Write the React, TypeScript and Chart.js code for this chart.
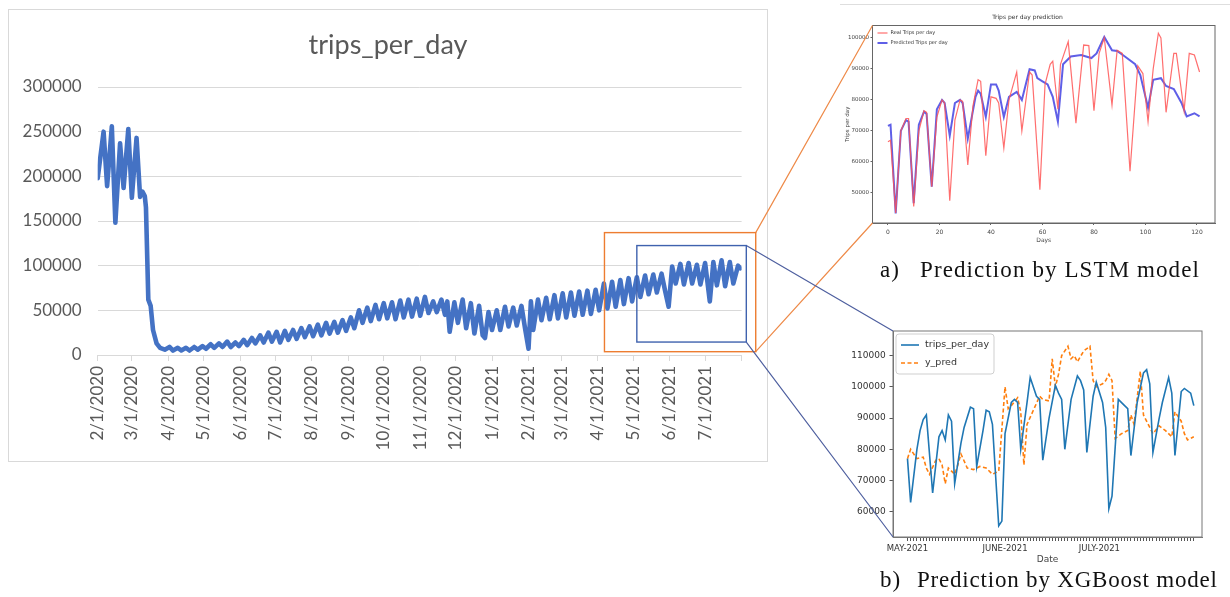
import React, { useEffect, useRef } from 'react';
import { Chart, registerables } from 'chart.js';

Chart.register(...registerables);

// ================= Main chart: trips_per_day (x = days since 2/1/2020) =================
const mainDays = [
  0, 5, 8, 12, 15, 19, 22, 26, 29, 33,
  36, 38, 40, 41, 43, 45, 47, 50, 53, 57,
  61, 64, 68, 71, 75, 78, 82, 85, 89, 92,
  96, 99, 103, 106, 110, 113, 117, 120, 124, 127,
  131, 134, 138, 141, 145, 148, 152, 155, 159, 162,
  166, 169, 173, 176, 180, 183, 187, 190, 194, 197,
  201, 204, 208, 211, 215, 218, 222, 225, 229, 232,
  236, 239, 243, 246, 250, 253, 257, 260, 264, 267,
  271, 274, 278, 281, 285, 288, 292, 295, 297, 299,
  303, 306, 310, 313, 317, 320, 324, 327, 329, 332,
  335, 339, 342, 346, 349, 353, 356, 360, 363, 366,
  368, 370, 374, 377, 381, 384, 388, 391, 395, 398,
  402, 405, 409, 412, 416, 419, 423, 426, 430, 433,
  437, 440, 444, 447, 451, 454, 458, 461, 465, 468,
  472, 475, 479, 482, 485, 488, 491, 495, 498, 502,
  505, 509, 512, 516, 520, 523, 526, 530, 533, 537,
  540, 544, 546,
];
const mainTrips = [
  198000, 250000, 189000, 256000, 148000, 237000, 187000, 253000, 176000, 243000,
  177000, 183000, 178000, 165000, 62000, 55000, 28000, 13000, 8000, 6000,
  9000, 5000, 8000, 5000, 8000, 5000, 9000, 6000, 10000, 7000,
  12000, 8000, 13000, 9000, 15000, 9000, 14000, 10000, 17000, 11000,
  19000, 13000, 22000, 14000, 25000, 15000, 26000, 14000, 27000, 17000,
  28000, 18000, 30000, 20000, 32000, 21000, 34000, 22000, 36000, 24000,
  37000, 25000, 39000, 27000, 42000, 30000, 50000, 36000, 53000, 38000,
  56000, 40000, 58000, 41000, 59000, 40000, 61000, 42000, 62000, 43000,
  63000, 44000, 65000, 47000, 60000, 48000, 62000, 45000, 60000, 26000,
  59000, 36000, 62000, 30000, 58000, 24000, 55000, 22000, 19000, 48000,
  28000, 50000, 28000, 54000, 32000, 53000, 33000, 55000, 30000, 7000,
  60000, 28000, 62000, 39000, 64000, 40000, 67000, 41000, 69000, 42000,
  70000, 44000, 71000, 45000, 72000, 46000, 73000, 50000, 80000, 52000,
  82000, 54000, 84000, 57000, 86000, 60000, 87000, 65000, 89000, 68000,
  90000, 70000, 91000, 72000, 54000, 99000, 80000, 102000, 79000, 103000,
  80000, 101000, 79000, 103000, 60000, 104000, 78000, 106000, 77000, 104000,
  80000, 100000, 97000,
];
const mainMonthDays = [0, 29, 60, 90, 121, 151, 182, 213, 243, 274, 304, 335, 366, 394, 425, 455, 486, 516, 547];
const mainMonthLabels = [
  '2/1/2020', '3/1/2020', '4/1/2020', '5/1/2020', '6/1/2020', '7/1/2020', '8/1/2020', '9/1/2020',
  '10/1/2020', '11/1/2020', '12/1/2020', '1/1/2021', '2/1/2021', '3/1/2021', '4/1/2021', '5/1/2021',
  '6/1/2021', '7/1/2021', '',
];
const mainYTicks = [0, 50000, 100000, 150000, 200000, 250000, 300000];

// zoom windows drawn on the main chart: [dayStart, dayEnd, valueLow, valueHigh]
const orangeWindow = [430.5, 559, 3700, 137000];
const blueWindow = [458, 551, 14500, 122500];

// ================= a) LSTM inset (x = days) =================
const lstmRealDays = [
  0, 1, 3, 5, 7, 8, 10, 12, 14, 15, 17, 19, 21, 22, 24, 26, 28, 29, 31, 33,
  35, 36, 38, 40, 42, 43, 45, 47, 50, 52, 55, 56, 59, 61, 63, 64, 66, 67, 70, 73,
  76, 78, 80, 82, 84, 87, 89, 91, 94, 97, 99, 101, 103, 105, 106, 108, 111, 112, 115, 117,
  119, 121,
];
const lstmReal = [
  66500, 67000, 43500, 70000, 74000, 74000, 45600, 70000, 76500, 76000, 52000, 74500, 80000, 79000, 47500, 73500, 80000, 79500, 59000, 78000,
  86500, 86000, 62000, 81000, 80500, 79000, 64500, 80000, 89000, 70000, 89000, 88000, 51000, 85000, 91500, 92500, 77000, 91500, 98800, 72500,
  97700, 97500, 76500, 95000, 100000, 78400, 96000, 95000, 57000, 91000, 88500, 73000, 90000, 101500, 100000, 76000, 95000, 95000, 76500, 95000,
  94500, 89000,
];
const lstmPredDays = [
  0, 1, 3, 5, 7, 8, 10, 12, 14, 15, 17, 19, 21, 22, 24, 26, 28, 29, 31, 34,
  35, 36, 38, 40, 42, 43, 45, 47, 50, 52, 55, 57, 58, 60, 62, 64, 66, 68, 71, 75,
  79, 81, 84, 87, 89, 92, 96, 98, 101, 103, 106, 108, 111, 114, 116, 119, 121,
];
const lstmPred = [
  71600, 72000, 43400, 70000, 73500, 73000, 46700, 72000, 76200, 75500, 52000, 77000, 80000, 79000, 68500, 79000, 80000, 79000, 67500, 81000,
  83000, 82000, 74500, 85000, 85000, 83000, 74500, 81000, 82600, 80000, 89900, 89500, 87000, 86000, 85000, 81000, 73000, 91500, 94000, 94500,
  93500, 95000, 100300, 96000, 95800, 94000, 91500, 88000, 77500, 86500, 87000, 84500, 83500, 79000, 74700, 75700, 74700,
];
const lstmXTicks = [0, 20, 40, 60, 80, 100, 120];
const lstmYTicks = [50000, 60000, 70000, 80000, 90000, 100000];

// ================= b) XGBoost inset (x = days since May 1, 2021) =================
const xgbTripDays = [
  0, 1, 3, 4, 5, 6, 8, 10, 11, 12, 13, 14, 15, 17, 18, 20, 21, 22, 24, 25,
  26, 27, 29, 30, 31, 33, 34, 35, 36, 38, 39, 41, 42, 43, 45, 47, 48, 49, 50, 52,
  54, 55, 56, 57, 59, 60, 62, 63, 64, 65, 67, 69, 70, 71, 73, 75, 76, 77, 78, 80,
  81, 83, 84, 85, 87, 88, 90, 91,
];
const xgbTrips = [
  77000, 63000, 80000, 86000, 89500, 91000, 66000, 84000, 86000, 83000, 91000, 89000, 69000, 82000, 87000, 93500, 93000, 74500, 86000, 92500,
  92000, 88000, 55500, 57000, 85000, 95000, 96000, 95000, 80000, 95000, 103000, 97000, 96000, 76500, 90000, 100500, 98000, 96000, 80000, 96000,
  103500, 102000, 99000, 79000, 97000, 101500, 95000, 87000, 61000, 65000, 96000, 94000, 93000, 78000, 95000, 104500, 105500, 101000, 79000, 90000,
  95000, 103000, 98000, 78000, 98500, 99500, 98000, 94000,
];
const xgbPredDays = [
  0, 1, 3, 5, 6, 7, 9, 10, 11, 12, 13, 15, 16, 17, 19, 21, 23, 25, 27, 28,
  29, 31, 32, 33, 35, 36, 37, 38, 40, 42, 43, 45, 46, 47, 48, 49, 51, 52, 53, 54,
  56, 58, 59, 60, 62, 63, 64, 65, 66, 68, 70, 71, 72, 74, 75, 77, 78, 80, 82, 84,
  85, 87, 88, 89, 91,
];
const xgbPred = [
  77000, 80000, 77000, 77500, 74000, 72000, 76500, 77000, 75000, 69000, 74000, 72000, 75000, 78500, 74000, 73500, 74500, 74000, 72000, 72500,
  73000, 100000, 93000, 94000, 96500, 92000, 75000, 88000, 92500, 97000, 96000, 95500, 109000, 100000, 104000, 110000, 113000, 109000, 110000, 108000,
  111500, 113000, 102000, 100000, 101000, 102000, 104000, 102000, 83500, 85000, 86000, 91000, 88000, 105000, 91000, 87000, 85000, 87500, 86000, 84000,
  92000, 89000, 85000, 83000, 84000,
];
const xgbMonthDays = [0, 31, 61];
const xgbMonthLabels = ['MAY-2021', 'JUNE-2021', 'JULY-2021'];
const xgbYTicks = [60000, 70000, 80000, 90000, 100000, 110000];

const pts = (xs: number[], ys: number[]) => xs.map((x, i) => ({ x, y: ys[i] }));

// full frame around plot area (matplotlib style)
const framePlugin = {
  id: 'frame',
  afterDatasetsDraw(chart: any, _a: any, opts: any) {
    if (!opts || !opts.color) return;
    const { ctx, chartArea: a } = chart;
    ctx.save();
    ctx.strokeStyle = opts.color;
    ctx.lineWidth = opts.width || 1;
    ctx.strokeRect(a.left, a.top, a.right - a.left, a.bottom - a.top);
    ctx.restore();
  },
};

// legend drawn inside the plot area, top-left
const insetLegendPlugin = {
  id: 'insetLegend',
  afterDatasetsDraw(chart: any, _a: any, opts: any) {
    if (!opts || !opts.fontSize) return;
    const { ctx, chartArea: a } = chart;
    const items = chart.data.datasets;
    ctx.save();
    ctx.font = `${opts.fontSize}px ${opts.fontFamily}`;
    ctx.textBaseline = 'middle';
    const x0 = a.left + opts.padX;
    const y0 = a.top + opts.padY;
    let maxW = 0;
    items.forEach((ds: any) => { maxW = Math.max(maxW, ctx.measureText(ds.label).width); });
    if (opts.frameColor) {
      const fx = x0 - opts.frameGap;
      const fy = y0 - opts.rowHeight / 2 - opts.frameGap + 3;
      const fw = opts.lineLength + opts.gap + maxW + opts.frameGap * 2;
      const fh = opts.rowHeight * items.length + opts.frameGap * 2 - 6;
      ctx.beginPath();
      ctx.roundRect(fx, fy, fw, fh, 3);
      ctx.fillStyle = 'rgba(255,255,255,0.8)';
      ctx.fill();
      ctx.strokeStyle = opts.frameColor;
      ctx.lineWidth = 1;
      ctx.stroke();
    }
    items.forEach((ds: any, i: number) => {
      const cy = y0 + i * opts.rowHeight;
      ctx.strokeStyle = ds.borderColor;
      ctx.lineWidth = ds.borderWidth;
      ctx.setLineDash(ds.borderDash || []);
      ctx.beginPath();
      ctx.moveTo(x0, cy);
      ctx.lineTo(x0 + opts.lineLength, cy);
      ctx.stroke();
      ctx.setLineDash([]);
      ctx.fillStyle = opts.color;
      ctx.fillText(ds.label, x0 + opts.lineLength + opts.gap, cy);
    });
    ctx.restore();
  },
};

const MAIN = { left: 9, top: 10, w: 758, h: 451 };
const LSTM = { left: 840, top: 5, w: 385, h: 245 };
const XGB = { left: 840, top: 321, w: 380, h: 250 };

export default function App() {
  const mainRef = useRef<HTMLCanvasElement>(null);
  const lstmRef = useRef<HTMLCanvasElement>(null);
  const xgbRef = useRef<HTMLCanvasElement>(null);
  const overlayRef = useRef<HTMLCanvasElement>(null);
  const boxRef = useRef<HTMLDivElement>(null);

  useEffect(() => {
    const mainFont = 'Lato';
    const insetFont = 'DejaVu Sans';

    const main = new Chart(mainRef.current!, {
      type: 'line',
      data: {
        datasets: [{
          label: 'trips_per_day',
          data: pts(mainDays, mainTrips),
          borderColor: '#4472C4',
          borderWidth: 4.6,
          pointRadius: 0,
          tension: 0,
          borderJoinStyle: 'round',
          borderCapStyle: 'round',
          fill: false,
        }],
      },
      options: {
        responsive: false,
        animation: false,
        events: [],
        layout: { padding: { left: 0, right: 0, top: 0, bottom: 0 } },
        plugins: {
          legend: { display: false },
          tooltip: { enabled: false },
          title: {
            display: true,
            text: 'trips_per_day',
            color: '#595959',
            font: { family: mainFont, size: 27, weight: 'normal' },
            padding: { top: 19, bottom: 25.6 },
          },
        },
        scales: {
          x: {
            type: 'linear',
            min: 0,
            max: 547,
            afterBuildTicks: (s: any) => { s.ticks = mainMonthDays.map((v) => ({ value: v })); },
            afterFit: (s: any) => { s.height = 106; },
            ticks: {
              autoSkip: false,
              maxRotation: 90,
              minRotation: 90,
              padding: 5,
              color: '#595959',
              font: { family: mainFont, size: 17 },
              callback: (_v: any, i: number) => mainMonthLabels[i],
            },
            grid: { drawOnChartArea: false, drawTicks: true, tickLength: 6, color: '#d9d9d9' },
            border: { display: true, color: '#d9d9d9' },
          },
          y: {
            min: 0,
            max: 300000,
            afterBuildTicks: (s: any) => { s.ticks = mainYTicks.map((v) => ({ value: v })); },
            afterFit: (s: any) => { s.width = 88.7; },
            ticks: {
              padding: 16,
              color: '#595959',
              font: { family: mainFont, size: 17 },
              callback: (v: any) => String(v),
            },
            grid: { color: '#d9d9d9', drawTicks: false },
            border: { display: false },
          },
          // empty spacer on the right so the title stays centred on the whole chart box
          spacer: {
            position: 'right',
            display: true,
            afterFit: (s: any) => { s.width = 23; },
            ticks: { display: false },
            grid: { display: false, drawOnChartArea: false },
            border: { display: false },
          },
        },
      } as any,
    });

    const lstm = new Chart(lstmRef.current!, {
      type: 'line',
      data: {
        datasets: [
          {
            label: 'Real Trips per day',
            data: pts(lstmRealDays, lstmReal),
            borderColor: 'rgba(255,85,85,0.85)',
            borderWidth: 1.2,
            pointRadius: 0,
            tension: 0,
          },
          {
            label: 'Predicted Trips per day',
            data: pts(lstmPredDays, lstmPred),
            borderColor: 'rgba(55,55,225,0.8)',
            borderWidth: 2,
            pointRadius: 0,
            tension: 0,
          },
        ],
      },
      options: {
        responsive: false,
        animation: false,
        events: [],
        layout: { padding: { left: 0, right: 10, top: 0, bottom: 0 } },
        plugins: {
          legend: { display: false },
          tooltip: { enabled: false },
          title: {
            display: true,
            text: 'Trips per day prediction',
            color: '#333',
            font: { family: insetFont, size: 6, weight: 'normal' },
            padding: { top: 8.4, bottom: 4.9 },
          },
          frame: { color: '#666' },
          insetLegend: {
            fontSize: 5, fontFamily: insetFont, color: '#333',
            padX: 5, padY: 7.5, rowHeight: 10, lineLength: 10, gap: 3,
          },
        },
        scales: {
          x: {
            type: 'linear',
            min: -6,
            max: 127,
            afterBuildTicks: (s: any) => { s.ticks = lstmXTicks.map((v) => ({ value: v })); },
            afterFit: (s: any) => { s.height = 27; },
            ticks: { autoSkip: false, maxRotation: 0, padding: 3.5, color: '#444', font: { family: insetFont, size: 6 } },
            grid: { drawOnChartArea: false, tickLength: 2, color: '#666' },
            border: { color: '#666' },
            title: { display: true, text: 'Days', color: '#444', font: { family: insetFont, size: 6 }, padding: { top: 0, bottom: 6.4 } },
          },
          y: {
            min: 40300,
            max: 104000,
            afterBuildTicks: (s: any) => { s.ticks = lstmYTicks.map((v) => ({ value: v })); },
            afterFit: (s: any) => { s.width = 32.5; },
            ticks: { padding: 1.5, color: '#444', font: { family: insetFont, size: 5.5 }, callback: (v: any) => String(v) },
            grid: { drawOnChartArea: false, tickLength: 2, color: '#666' },
            border: { color: '#666' },
            title: { display: true, text: 'Trips per day', color: '#444', font: { family: insetFont, size: 5.5 }, padding: { top: 4, bottom: 0 } },
          },
        },
      } as any,
      plugins: [framePlugin, insetLegendPlugin] as any,
    });

    const xgb = new Chart(xgbRef.current!, {
      type: 'line',
      data: {
        datasets: [
          {
            label: 'trips_per_day',
            data: pts(xgbTripDays, xgbTrips),
            borderColor: '#1f77b4',
            borderWidth: 1.6,
            pointRadius: 0,
            tension: 0,
          },
          {
            label: 'y_pred',
            data: pts(xgbPredDays, xgbPred),
            borderColor: '#ff7f0e',
            borderWidth: 1.6,
            borderDash: [4, 2.5],
            pointRadius: 0,
            tension: 0,
          },
        ],
      },
      options: {
        responsive: false,
        animation: false,
        events: [],
        layout: { padding: { left: 0, right: 18, top: 10, bottom: 0 } },
        plugins: {
          legend: { display: false },
          tooltip: { enabled: false },
          title: { display: false },
          frame: { color: '#777' },
          insetLegend: {
            fontSize: 9.5, fontFamily: insetFont, color: '#333',
            padX: 8, padY: 14, rowHeight: 18, lineLength: 18, gap: 6,
            frameColor: '#cfcfcf', frameGap: 5,
          },
        },
        scales: {
          x: {
            type: 'linear',
            min: -4.6,
            max: 93.6,
            afterBuildTicks: (s: any) => {
              const t: any[] = [];
              for (let d = 0; d <= 91; d++) t.push({ value: d });
              s.ticks = t;
            },
            afterFit: (s: any) => { s.height = 34; },
            ticks: {
              autoSkip: false,
              maxRotation: 0,
              minRotation: 0,
              padding: 3,
              color: '#333',
              font: { family: insetFont, size: 8.5 },
              callback: (v: any) => {
                const k = xgbMonthDays.indexOf(v);
                return k >= 0 ? xgbMonthLabels[k] : '';
              },
            },
            grid: { drawOnChartArea: false, tickLength: 4, color: '#555' },
            border: { color: '#777' },
            title: { display: true, text: 'Date', color: '#444', font: { family: insetFont, size: 9 }, padding: { top: 0, bottom: 5.6 } },
          },
          y: {
            min: 51900,
            max: 117900,
            afterBuildTicks: (s: any) => { s.ticks = xgbYTicks.map((v) => ({ value: v })); },
            afterFit: (s: any) => { s.width = 53; },
            ticks: { padding: 3.8, color: '#333', font: { family: insetFont, size: 9 }, callback: (v: any) => String(v) },
            grid: { drawOnChartArea: false, tickLength: 3.5, color: '#555' },
            border: { color: '#777' },
          },
        },
      } as any,
      plugins: [framePlugin, insetLegendPlugin] as any,
    });

    // ---- overlay: zoom windows and connector lines ----
    const ov = overlayRef.current!;
    const octx = ov.getContext('2d')!;
    octx.clearRect(0, 0, ov.width, ov.height);
    const base = boxRef.current!.getBoundingClientRect();
    const posOf = (c: HTMLCanvasElement) => {
      const r = c.getBoundingClientRect();
      return { x: r.left - base.left, y: r.top - base.top };
    };
    const mp = posOf(mainRef.current!);
    const mx = (d: number) => mp.x + main.scales.x.getPixelForValue(d);
    const my = (v: number) => mp.y + main.scales.y.getPixelForValue(v);

    // faint top edge of the LSTM screenshot
    octx.strokeStyle = '#dedede';
    octx.lineWidth = 1;
    octx.beginPath();
    octx.moveTo(840, 4.5);
    octx.lineTo(1230, 4.5);
    octx.stroke();

    const drawWindow = (win: number[], rectColor: string, lineColor: string, target: Chart, canvas: HTMLCanvasElement) => {
      const x0 = mx(win[0]);
      const x1 = mx(win[1]);
      const yTop = my(win[3]);
      const yBot = my(win[2]);
      const tp = posOf(canvas);
      const a = target.chartArea;
      octx.strokeStyle = lineColor;
      octx.lineWidth = 1.2;
      octx.beginPath();
      octx.moveTo(x1, yTop);
      octx.lineTo(tp.x + a.left, tp.y + a.top);
      octx.moveTo(x1, yBot);
      octx.lineTo(tp.x + a.left, tp.y + a.bottom);
      octx.stroke();
      octx.strokeStyle = rectColor;
      octx.lineWidth = 1.4;
      octx.strokeRect(x0, yTop, x1 - x0, yBot - yTop);
    };
    drawWindow(orangeWindow, '#ED7D31', '#EE8A48', lstm, lstmRef.current!);
    drawWindow(blueWindow, '#3F62AE', '#4E5F9F', xgb, xgbRef.current!);

    return () => {
      main.destroy();
      lstm.destroy();
      xgb.destroy();
    };
  }, []);

  const abs = (r: { left: number; top: number; w: number; h: number }): React.CSSProperties => ({
    position: 'absolute', left: r.left, top: r.top, width: r.w, height: r.h,
  });
  const caption: React.CSSProperties = {
    position: 'absolute',
    fontFamily: '"Liberation Serif", "Times New Roman", serif',
    fontSize: 23,
    lineHeight: '23px',
    letterSpacing: '1px',
    color: '#111',
    whiteSpace: 'nowrap',
  };

  return (
    <div ref={boxRef} style={{ position: 'absolute', left: 0, top: 0, width: 1230, height: 597, background: '#fff', overflow: 'hidden' }}>
      <div style={{ position: 'absolute', left: 8, top: 9, width: 760, height: 453, border: '1px solid #d9d9d9', boxSizing: 'border-box' }} />
      <canvas ref={mainRef} width={MAIN.w} height={MAIN.h} style={abs(MAIN)} />
      <canvas ref={lstmRef} width={LSTM.w} height={LSTM.h} style={abs(LSTM)} />
      <canvas ref={xgbRef} width={XGB.w} height={XGB.h} style={abs(XGB)} />
      <canvas ref={overlayRef} width={1230} height={597} style={{ position: 'absolute', left: 0, top: 0, width: 1230, height: 597, pointerEvents: 'none' }} />
      <div style={{ ...caption, left: 880, top: 257.5 }}>a)</div>
      <div style={{ ...caption, left: 920, top: 257.5, letterSpacing: '1.1px' }}>Prediction by LSTM model</div>
      <div style={{ ...caption, left: 880, top: 567.5 }}>b)</div>
      <div style={{ ...caption, left: 917, top: 567.5, letterSpacing: '0.8px' }}>Prediction by XGBoost model</div>
    </div>
  );
}
